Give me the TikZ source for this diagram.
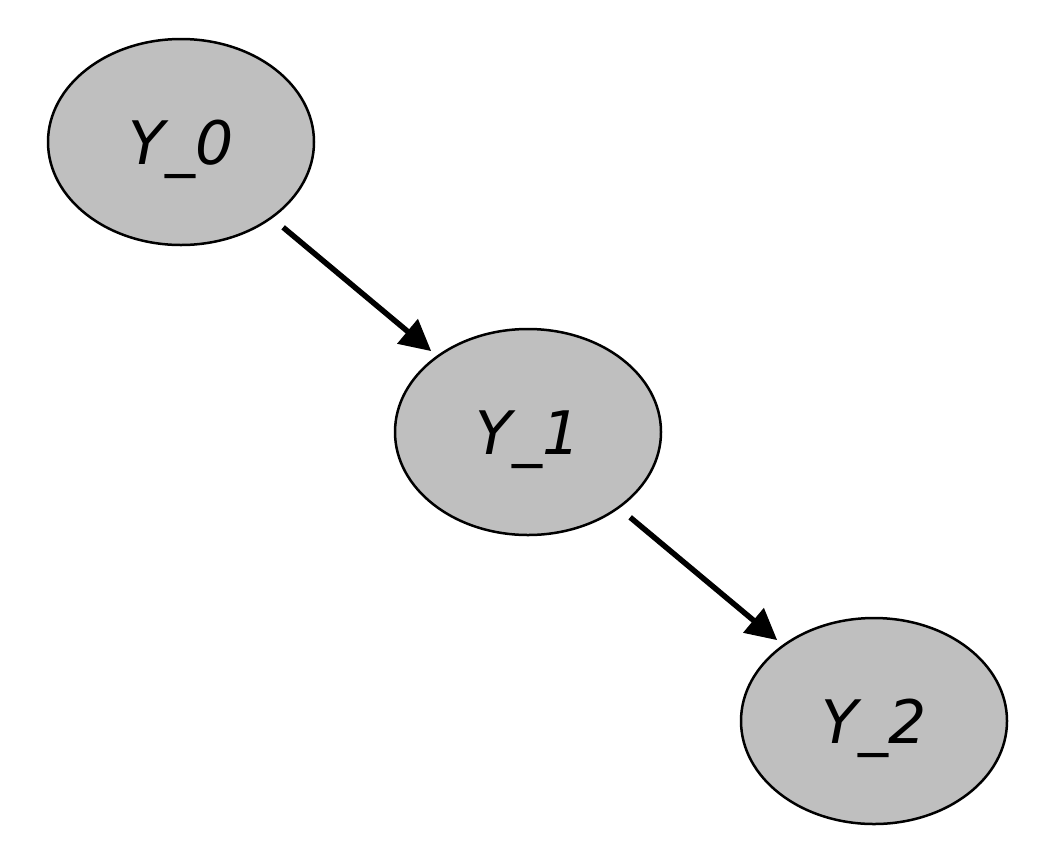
\documentclass[tikz,border=0pt]{standalone}
\usepackage{fontspec}
\setmainfont{DejaVu Sans}
\usetikzlibrary{arrows.meta,%
		positioning,%
		shapes.geometric}

\begin{document}
\begin{tikzpicture}[x=1pt,y=-1pt,font=\fontsize{60}{60}\selectfont\itshape]

  \tikzset{state/.style={ellipse,draw,line width=2.5pt,fill=black!25,
      minimum width=266pt,minimum height=206pt,inner sep=0pt,
      text height=44pt,text depth=0pt},
    link/.style={line width=5.5pt,-{Triangle[length=31pt,width=31pt]},
      shorten <=14pt,shorten >=7pt}}

  \useasboundingbox (0,0) rectangle (1056,865);
  \node[state] (y0) at (181,142) {Y\_0};
  \node[state] (y1) at (528,432) {Y\_1};
  \node[state] (y2) at (874,721) {Y\_2};
  \draw[link] (y0)--(y1);
  \draw[link] (y1)--(y2);

\end{tikzpicture}
\end{document}
